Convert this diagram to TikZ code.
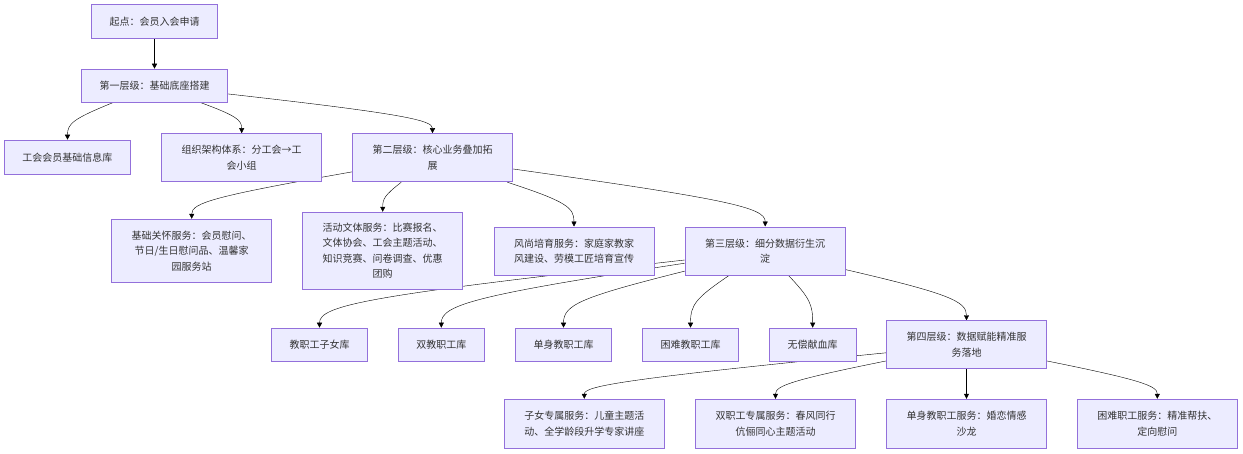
\documentclass[tikz,border=0pt]{standalone}
\usepackage{fontspec}
\newfontfamily\cjk{Noto Sans CJK SC}
\usetikzlibrary{arrows.meta,backgrounds}

\definecolor{boxfill}{HTML}{ECECFF}
\definecolor{boxline}{HTML}{9370DB}
\definecolor{inkcol}{HTML}{333333}

\tikzset{
	box/.style={draw=boxline, fill=boxfill, line width=1pt, text=inkcol, align=center,
		inner sep=0pt, minimum width=160pt, minimum height=48pt,
		font=\cjk\fontsize{10}{15.5}\selectfont},
	small/.style={box, minimum height=33pt},
}

\begin{document}
\begin{tikzpicture}[x=1pt, y=1pt, arrows={-Triangle[length=5pt,width=5pt]}]
	\useasboundingbox (0,0) rectangle (1243,-453);

	% levels and their data
	\node[box, minimum width=126pt, minimum height=34pt] (start) at (154.5,-21.5) {起点：会员入会申请};
	\node[box, minimum width=146pt, minimum height=33pt] (lvlone) at (154.5,-85.7) {第一层级：基础底座搭建};
	\node[box, minimum width=126pt, minimum height=34pt] (basedb) at (67.5,-157.2) {工会会员基础信息库};
	\node[box] (orgsys) at (241.7,-157.7) {组织架构体系：分工会→工\\会小组};
	\node[box] (lvltwo) at (432.5,-157.7) {第二层级：核心业务叠加拓\\展};
	\node[box, minimum height=63pt] (care) at (191.7,-250.8) {基础关怀服务：会员慰问、\\节日/生日慰问品、温馨家\\园服务站};
	\node[box, minimum height=77pt] (sport) at (382.7,-250.8) {活动文体服务：比赛报名、\\文体协会、工会主题活动、\\知识竞赛、问卷调查、优惠\\团购};
	\node[box] (ethos) at (574,-251) {风尚培育服务：家庭家教家\\风建设、劳模工匠培育宣传};
	\node[box] (lvlthree) at (765.2,-251) {第三层级：细分数据衍生沉\\淀};
	\node[small, minimum width=96pt] (kids) at (319.5,-344.7) {教职工子女库};
	\node[small, minimum width=86pt] (dual) at (441.3,-344.7) {双教职工库};
	\node[small, minimum width=96pt] (single) at (563.5,-344.7) {单身教职工库};
	\node[small, minimum width=96pt] (needy) at (690.5,-344.7) {困难教职工库};
	\node[small, minimum width=87pt] (blood) at (812.7,-344.7) {无偿献血库};
	\node[box] (lvlfour) at (966.5,-344.8) {第四层级：数据赋能精准服\\务落地};
	\node[box, minimum height=49pt] (kidsvc) at (584.3,-423.8) {子女专属服务：儿童主题活\\动、全学龄段升学专家讲座};
	\node[box, minimum height=49pt] (dualsvc) at (775.5,-423.8) {双职工专属服务：春风同行\\伉俪同心主题活动};
	\node[box, minimum height=49pt] (singlesvc) at (966.5,-423.8) {单身教职工服务：婚恋情感\\沙龙};
	\node[box, minimum height=49pt] (needysvc) at (1157.3,-423.8) {困难职工服务：精准帮扶、\\定向慰问};

	% links, behind the boxes
	\begin{scope}[on background layer, color=inkcol, line width=0.9pt]
		\draw (start) -- (lvlone);
		\draw (lvlone) to[out=202.3, in=90, out distance=43pt, in distance=16pt] (basedb);
		\draw (lvlone) to[out=-20.3, in=90, out distance=38pt, in distance=13pt] (orgsys);
		\draw (lvlone) to[out=-6.6, in=90, out distance=176pt, in distance=13pt] (lvltwo);

		\draw (lvltwo) to[out=190, in=90, out distance=139pt, in distance=16pt] (care);
		\draw (lvltwo) to[out=218.3, in=90, out distance=21pt, in distance=13pt] (sport);
		\draw (lvltwo) to[out=-18.3, in=90, out distance=62pt, in distance=19pt] (ethos);
		\draw (lvltwo) to[out=-8, in=90, out distance=217pt, in distance=19pt] (lvlthree);

		\draw (lvlthree) to[out=186.5, in=90, out distance=313pt, in distance=23pt] (kids);
		\draw (lvlthree) to[out=188.9, in=90, out distance=210pt, in distance=23pt] (dual);
		\draw (lvlthree) to[out=194.1, in=90, out distance=107pt, in distance=23pt] (single);
		\draw (lvlthree) to[out=214.2, in=90, out distance=40pt, in distance=23pt] (needy);
		\draw (lvlthree) to[out=-46.9, in=90, out distance=31pt, in distance=23pt] (blood);
		\draw (lvlthree) to[out=-13.1, in=90, out distance=106pt, in distance=19pt] (lvlfour);

		\draw (lvlfour) to[out=185.9, in=90, out distance=258pt, in distance=13pt] (kidsvc);
		\draw (lvlfour) to[out=191.7, in=90, out distance=96pt, in distance=13pt] (dualsvc);
		\draw (lvlfour) -- (singlesvc);
		\draw (lvlfour) to[out=-11.7, in=90, out distance=96pt, in distance=13pt] (needysvc);
	\end{scope}
\end{tikzpicture}
\end{document}
